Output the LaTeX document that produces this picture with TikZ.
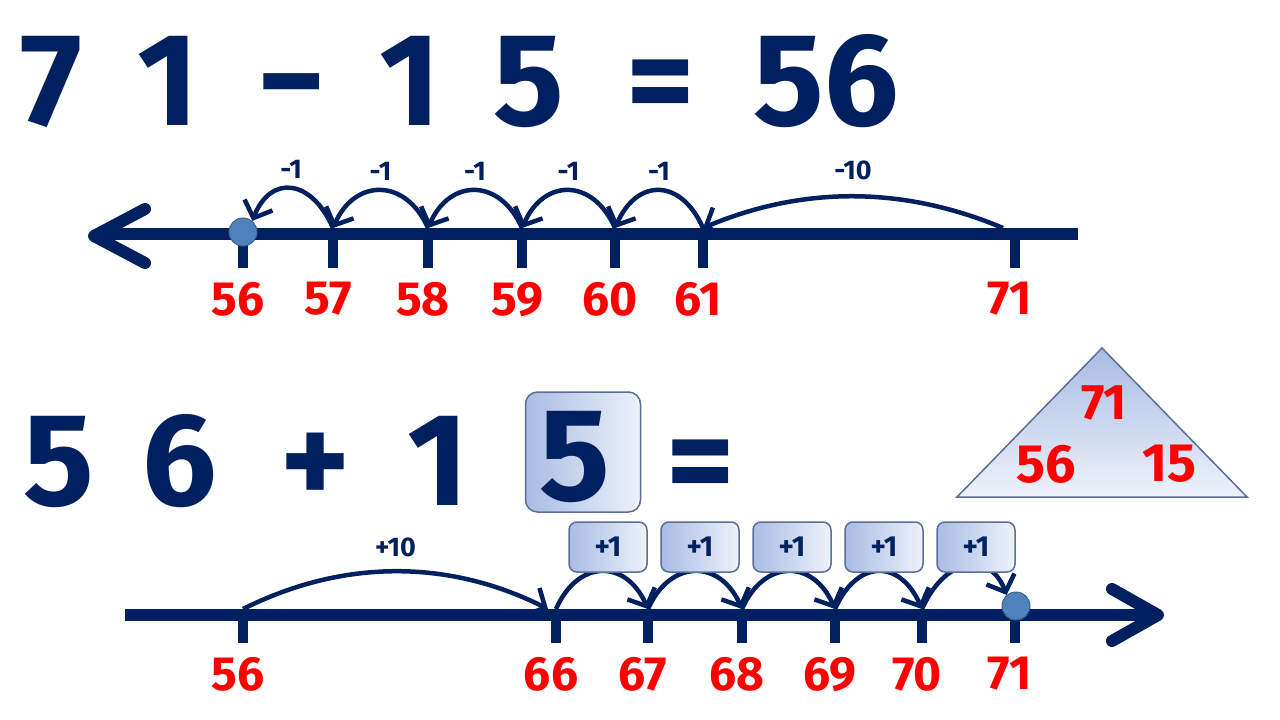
\documentclass[tikz,border=0pt]{standalone}
\usepackage{fontspec}
\setmainfont{Fira Sans}
\usetikzlibrary{arrows.meta,positioning}
\definecolor{navy}{HTML}{002060}
\definecolor{dotblue}{HTML}{4F81BD}
\definecolor{chipedge}{HTML}{5A6E98}
\definecolor{chipdark}{HTML}{A8BCE4}
\definecolor{chiplight}{HTML}{EEF2FA}
\tikzset{
  every picture/.style={x=1pt, y=-1pt},
  big/.style={text=navy, inner sep=0pt, anchor=base, font=\fontsize{132}{132}\selectfont\bfseries},
  numlab/.style={text=red, inner sep=0pt, anchor=north, font=\fontsize{48}{48}\selectfont\bfseries},
  jumplab/.style={text=navy, inner sep=0pt, font=\fontsize{27}{27}\selectfont\bfseries},
  axis/.style={navy, line width=12pt},
  tickmark/.style={navy, line width=10pt},
  hop/.style={navy, line width=4.5pt, -{Straight Barb[length=14pt, width=30pt, line width=4.5pt]}},
  chip/.style={draw=chipedge, line width=1.5pt, rounded corners=8pt, left color=chipdark, right color=chiplight,
    text=navy, font=\fontsize{29}{29}\selectfont\bfseries},
  dot/.style={circle, fill=dotblue, draw=dotblue!75!black, line width=1pt, inner sep=0pt, minimum size=28pt}
}
\begin{document}
\begin{tikzpicture}
  \fill[white] (0,0) rectangle (1280,720);
  \useasboundingbox (0,0) rectangle (1280,720);

  % subtraction
  \node[big] (s7) at (51,125) {7};
  \node[big] (s1) at (168,125) {1};
  \node[big] (sminus) at (292,125) {−};
  \node[big] (s1b) at (410,125) {1};
  \node[big] (s5) at (529,125) {5};
  \node[big] (seq) at (661,125) {=};
  \node[big] (s56) at (826,125) {56};

  \draw[axis] (1078,234) -- (96,234);
  \draw[axis, line cap=round, line join=round] (145,209) -- (94,236) -- (145,263);
  \foreach \x/\n in {243/56,333/57,428/58,522/59,615/60,703/61,1015/71} {
    \coordinate (ut\n) at (\x,228);
    \draw[tickmark] (\x,234) -- (\x,268);
    \node[numlab] (ul\n) at (\x-5,282) {\n};
  }
  \node[dot] (udot) at (243,232) {};
  \coordinate (u71s) at (1003,228);

  \draw[hop] (ut57) .. controls +(-22,-50) and +(18,-46) .. (udot.50)
    node[jumplab, pos=0.5, above=8pt] (um1) {-1};
  \foreach \a/\b in {58/57,59/58,60/59,61/60}
    \draw[hop] (ut\a) .. controls +(-22,-50) and +(22,-50) .. (ut\b)
      node[jumplab, pos=0.5, above=8pt] (um\a) {-1};
  \draw[hop] (u71s) .. controls +(-100,-42) and +(100,-42) .. (ut61)
    node[jumplab, pos=0.5, above=14pt] (um10) {-10};

  % addition
  \node[big] (a5) at (59,505) {5};
  \node[big] (a6) at (180,505) {6};
  \node[big] (aplus) at (316,505) {+};
  \node[big] (a1) at (438,505) {1};
  \node[chip, rounded corners=12pt, minimum width=115pt, minimum height=120pt] (abox) at (583,452) {};
  \node[big] (a5b) at (575,500) {5};
  \node[big] (aeq) at (701,505) {=};

  \draw[draw=chipedge, line width=1.5pt, top color=chipdark, bottom color=chiplight]
    (1102,348) -- (1247,497) -- (957,497) -- cycle;
  \node[text=red, font=\fontsize{50}{50}\selectfont\bfseries] (tri71) at (1104,403) {71};
  \node[text=red, font=\fontsize{54}{54}\selectfont\bfseries] (tri56) at (1046,464) {56};
  \node[text=red, font=\fontsize{54}{54}\selectfont\bfseries] (tri15) at (1169,464) {15};

  \draw[axis] (125,615) -- (1156,615);
  \draw[axis, line cap=round, line join=round] (1112,589) -- (1158,615) -- (1112,641);
  \foreach \x/\n in {243/56,556/66,648/67,742/68,835/69,922/70,1015/71} {
    \coordinate (dt\n) at (\x,609);
    \draw[tickmark] (\x,615) -- (\x,643);
    \node[numlab] (dl\n) at (\x-5,657) {\n};
  }
  \node[dot] (ddot) at (1016,606) {};
  \coordinate (d66in) at (548,609);

  \draw[hop] (dt56) .. controls +(100,-50) and +(-100,-50) .. (d66in)
    node[jumplab, pos=0.5, above=12pt] (dp10) {+10};
  \foreach \a/\b in {66/67,67/68,68/69,69/70}
    \draw[hop] (dt\a) .. controls +(22,-50) and +(-22,-50) .. (dt\b);
  \draw[hop] (dt70) .. controls +(22,-50) and +(-18,-46) .. (ddot.130);

  \foreach \x [count=\i] in {608,700,792,884,976}
    \node[chip, minimum width=78pt, minimum height=50pt] (chip\i) at (\x,547) {+1};
\end{tikzpicture}
\end{document}
